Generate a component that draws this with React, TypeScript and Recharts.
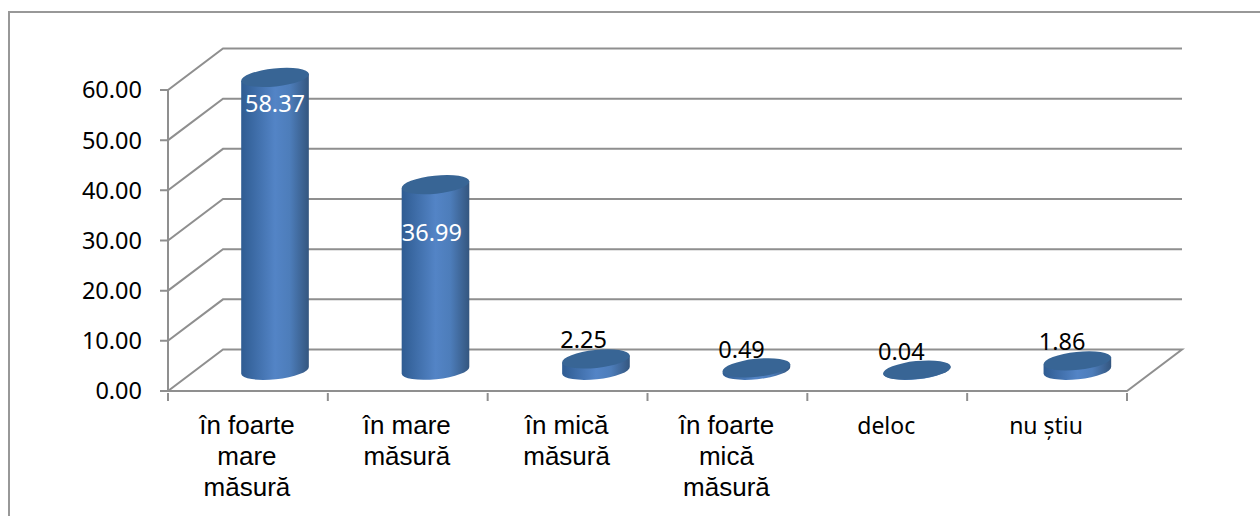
import { ComposedChart, Bar, XAxis, YAxis, CartesianGrid, LabelList } from 'recharts'

const categories = ['în foarte\nmare\nmăsură', 'în mare\nmăsură', 'în mică\nmăsură', 'în foarte\nmică\nmăsură', 'deloc', 'nu știu']
const values = [58.37, 36.99, 2.25, 0.49, 0.04, 1.86]
const valueTicks = [0, 10, 20, 30, 40, 50, 60]

const data = categories.map((name, i) => ({ name, value: values[i] }))

const lineColor = '#8f8f8f'
const tickLength = 8
const depthX = 55
const depthY = 41.5
const tilt = 6
const radiusX = 34
const radiusY = 9

// label nudges relative to the top of each cylinder (dx, baseline dy)
const labelNudge = [
  [0, 35],
  [-3, 56],
  [-11, -11],
  [-13, -10],
  [-13, -10],
  [-12, -11],
]

function WallLine(props: any) {
  const { x1, x2, y1, height, y } = props
  const isFloor = Math.abs(y1 - (y + height)) < 0.5
  const isTop = Math.abs(y1 - y) < 0.5
  let d = `M${x1 - tickLength},${y1} L${x1},${y1} L${x1 + depthX},${y1 - depthY} L${x2 + depthX},${y1 - depthY}`
  if (isFloor) d += ` L${x2},${y1} L${x1},${y1}`
  if (isTop) d += ` M${x1},${y} L${x1},${y + height}`
  return <path d={d} fill="none" stroke={lineColor} strokeWidth={2} />
}

function Cylinder(props: any) {
  const { x, y, width, height } = props
  // the original drifts a little to the right along the floor
  const cx = x + width / 2 + depthX / 2 + (x - 210) * 0.004
  const top = y - depthY / 2
  const base = y + height - depthY / 2
  const rad = (tilt * Math.PI) / 180
  const ex = radiusX * Math.cos(rad)
  const ey = radiusX * Math.sin(rad)
  const body =
    `M${cx - ex},${top + ey} L${cx - ex},${base + ey} ` +
    `A${radiusX},${radiusY} ${-tilt} 0 0 ${cx + ex},${base - ey} L${cx + ex},${top - ey} Z`
  return (
    <g>
      <path d={body} fill="url(#cylinderFill)" />
      <ellipse cx={cx} cy={top} rx={radiusX} ry={radiusY} fill="#386595" transform={`rotate(${-tilt} ${cx} ${top})`} />
    </g>
  )
}

function ValueLabel(props: any) {
  const { x, y, width, value, index } = props
  const [dx, dy] = labelNudge[index]
  return (
    <text
      x={x + width / 2 + depthX / 2 + dx}
      y={y - depthY / 2 + dy}
      textAnchor="middle"
      fontFamily="'Noto Sans'"
      fontSize={23.5}
      fill={value > 10 ? '#ffffff' : '#000000'}
    >
      {Number(value).toFixed(2)}
    </text>
  )
}

function CategoryTick(props: any) {
  const { x, y, width, index, payload } = props
  const lines = String(payload.value).split('\n')
  const single = lines.length === 1
  const band = width / categories.length
  const edge = x + band / 2
  return (
    <g>
      <line x1={edge} y1={y} x2={edge} y2={y + tickLength} stroke={lineColor} strokeWidth={2} />
      {index === 0 && <line x1={x - band / 2} y1={y} x2={x - band / 2} y2={y + tickLength} stroke={lineColor} strokeWidth={2} />}
      <text
        textAnchor="middle"
        fontFamily={single ? "'Noto Sans'" : "'Liberation Sans'"}
        fontSize={single ? 23 : 26}
        fill="#000000"
      >
        {lines.map((line, i) => (
          <tspan key={i} x={x - 1} y={y + 41 + i * 31}>
            {line}
          </tspan>
        ))}
      </text>
    </g>
  )
}

export default function App() {
  return (
    <div style={{ position: 'absolute', left: 0, top: 0, width: 1260, height: 516, background: '#fff', overflow: 'hidden' }}>
      <div style={{ position: 'absolute', left: 8, top: 11, width: 1260, height: 516, borderLeft: '2px solid #989898', borderTop: '2px solid #989898' }} />
      <div style={{ position: 'absolute', left: 0, top: 0 }}>
        <ComposedChart
          width={1260}
          height={516}
          data={data}
          barSize={67}
          margin={{ top: 90, right: 133, left: 0, bottom: 0 }}
        >
          <defs>
            <linearGradient id="cylinderFill" x1="0" y1="0" x2="1" y2="0">
              <stop offset="0%" stopColor="#2f5c92" />
              <stop offset="50%" stopColor="#5384c6" />
              <stop offset="72%" stopColor="#4d7dba" />
              <stop offset="100%" stopColor="#34567f" />
            </linearGradient>
          </defs>
          <CartesianGrid vertical={false} horizontal={(p: any) => <WallLine key={p.key} {...p} />} />
          <XAxis
            dataKey="name"
            height={125}
            axisLine={false}
            tickLine={false}
            tickSize={0}
            interval={0}
            tick={CategoryTick}
          />
          <YAxis
            width={168}
            domain={[0, 60]}
            ticks={valueTicks}
            interval={0}
            tickSize={8}
            tickMargin={18}
            tickFormatter={(v: number) => v.toFixed(2)}
            axisLine={false}
            tickLine={false}
            tick={{ fontSize: 23.5, fill: '#000000', fontFamily: "'Noto Sans'" }}
          />
          <Bar dataKey="value" shape={Cylinder} isAnimationActive={false}>
            <LabelList dataKey="value" content={ValueLabel} />
          </Bar>
        </ComposedChart>
      </div>
    </div>
  )
}
